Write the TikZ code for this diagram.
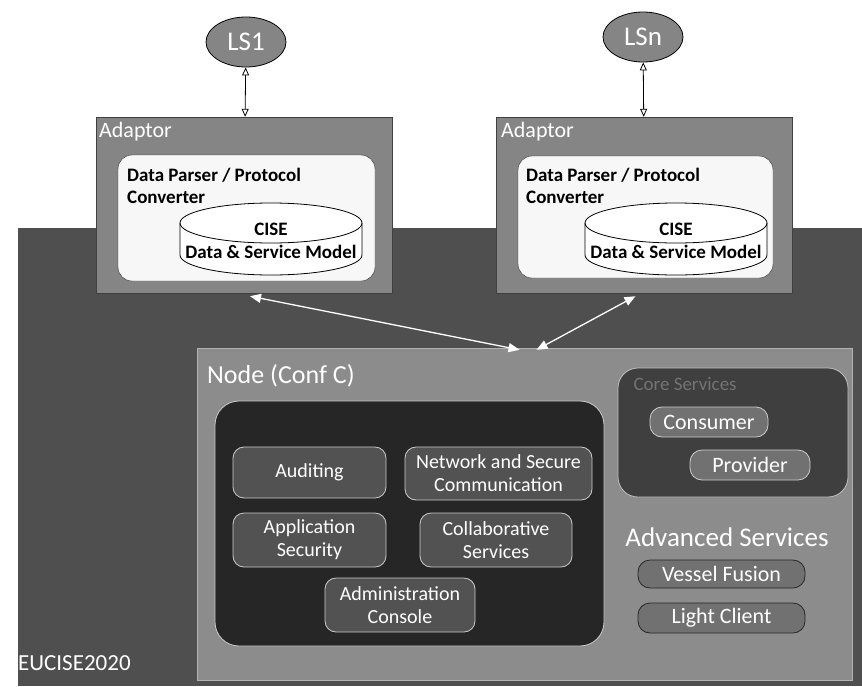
\documentclass[tikz,border=0pt]{standalone}
\usepackage{fontspec}
\setmainfont{Carlito}
\usetikzlibrary{positioning, arrows.meta, calc, shapes.geometric}
\definecolor{scanbg}{gray}{0.31}
\definecolor{scanmid}{gray}{0.52}
\definecolor{scannode}{gray}{0.55}
\definecolor{scandeep}{gray}{0.15}

\begin{document}
\begin{tikzpicture}[x=1pt, y=-1pt, font=\fontsize{15}{16}\selectfont,
    lsys/.style={ellipse, draw=black, thick, fill=scanmid, text=white, inner sep=1pt,
      font=\fontsize{27}{28}\selectfont, minimum width=80pt, minimum height=50pt},
    adaptor/.style={draw=black!75, fill=scanmid, minimum width=296pt, minimum height=176pt},
    parser/.style={draw=black!80, fill=black!3, rounded corners=14pt},
    darktext/.style={text=black, inner sep=1pt, font=\fontsize{19}{20}\selectfont\bfseries},
    svc/.style={draw=white!80!black, thick, rounded corners=11pt, fill=scandeep!80!white,
      text=white, align=center, inner sep=1pt, font=\fontsize{20}{23}\selectfont},
    pill/.style={draw=black!85, thick, rounded corners=12pt, fill=scanmid!85!black,
      text=white, align=center, inner sep=1pt, font=\fontsize{22}{23}\selectfont},
    lighttext/.style={text=white, inner sep=1pt, font=\fontsize{22}{23}\selectfont},
    linkarrow/.style={white, line width=1.3pt, {Triangle[length=11pt,width=9pt]}-{Triangle[length=11pt,width=9pt]}},
    lsarrow/.style={black, thick, {Triangle[open,length=8pt,width=7pt]}-{Triangle[open,length=8pt,width=7pt]}}]
  \useasboundingbox (0,0) rectangle (862,686);

  % dark field behind the node
  \fill[scanbg] (18,228) rectangle (862,686);

  % legacy systems
  \node[lsys] (ls1) at (246,42) {LS1};
  \node[lsys] (lsn) at (643,37) {LSn};

  % adaptors
  \node[adaptor] (adL) at (244,205) {};
  \node[adaptor] (adR) at (644.5,205) {};
  \node[lighttext, anchor=west] (adLlbl) at (98,132) {Adaptor};
  \node[lighttext, anchor=west] (adRlbl) at (500,132) {Adaptor};
  \node[parser, minimum width=257pt, minimum height=126pt] (parL) at (246.5,218) {};
  \node[parser, minimum width=255pt, minimum height=122pt] (parR) at (645.5,217) {};
  \node[darktext, anchor=west] (dpL) at (126,175) {Data Parser / Protocol};
  \node[darktext, anchor=west] (cvL) at (126,197) {Converter};
  \node[darktext, anchor=west] (dpR) at (525,175) {Data Parser / Protocol};
  \node[darktext, anchor=west] (cvR) at (525,197) {Converter};

  % data models
  \foreach \cx/\nm in {271/L, 676/R}{
    \draw[black, thick, fill=white] (\cx-91,223) -- (\cx-91,255)
      arc[start angle=180, end angle=360, x radius=91pt, y radius=20pt] -- (\cx+91,223)
      arc[start angle=0, end angle=180, x radius=91pt, y radius=20pt] -- cycle;
    \draw[black, thick] (\cx-91,223) arc[start angle=180, end angle=360, x radius=91pt, y radius=20pt];
    \node[darktext] (cise\nm) at (\cx,229) {CISE};
    \node[darktext] (dsm\nm) at (\cx,252) {Data \& Service Model};
  }

  \draw[lsarrow] (ls1) -- (adL);
  \draw[lsarrow] (lsn) -- (adR);

  % node (conf C)
  \node[draw=white!70!black, fill=scannode, minimum width=655pt, minimum height=332pt] (nodebox) at (524.5,514) {};
  \node[lighttext, anchor=west, font=\fontsize{26}{27}\selectfont] (nodelbl) at (206,376) {Node (Conf C)};
  \node[draw=white!80!black, thick, rounded corners=24pt, fill=scandeep,
        minimum width=389pt, minimum height=245pt] (core) at (409.5,523.5) {};
  \node[svc, minimum width=153pt, minimum height=51pt] (aud) at (309.5,472.5) {Auditing};
  \node[svc, minimum width=187pt, minimum height=53pt] (net) at (498.5,473.5) {Network and Secure\\Communication};
  \node[svc, minimum width=153pt, minimum height=54pt] (appsec) at (309.5,540) {Application\\Security};
  \node[svc, minimum width=152pt, minimum height=54pt] (collab) at (496,540) {Collaborative\\Services};
  \node[svc, minimum width=150pt, minimum height=54pt] (admin) at (400,605) {Administration\\Console};

  % core services
  \node[draw=white!75!black, thick, rounded corners=20pt, fill=scanbg!80!black,
        minimum width=230pt, minimum height=129pt] (coresvc) at (733,432.5) {};
  \node[text=black!55, anchor=west, font=\fontsize{19}{20}\selectfont] (corelbl) at (630,384) {Core Services};
  \node[pill, draw=white!80!black, minimum width=118pt, minimum height=30pt] (cons) at (709,422) {Consumer};
  \node[pill, draw=white!80!black, minimum width=120pt, minimum height=30pt] (prov) at (750,465) {Provider};

  % advanced services
  \node[lighttext, font=\fontsize{27}{28}\selectfont] (advlbl) at (727,537) {Advanced Services};
  \node[pill, minimum width=167pt, minimum height=28pt] (vessel) at (721.5,574) {Vessel Fusion};
  \node[pill, minimum width=167pt, minimum height=30pt] (light) at (721.5,618) {Light Client};

  \draw[linkarrow] ([xshift=6pt, yshift=-3pt]adL.south) -- ([xshift=-5pt, yshift=-2pt]nodebox.north);
  \draw[linkarrow] ([xshift=-9pt, yshift=-3pt]adR.south) -- ([xshift=12pt, yshift=-2pt]nodebox.north);

  \node[text=white, anchor=west, inner sep=1pt, font=\fontsize{23}{24}\selectfont] (tag) at (17,663) {EUCISE2020};
\end{tikzpicture}
\end{document}
